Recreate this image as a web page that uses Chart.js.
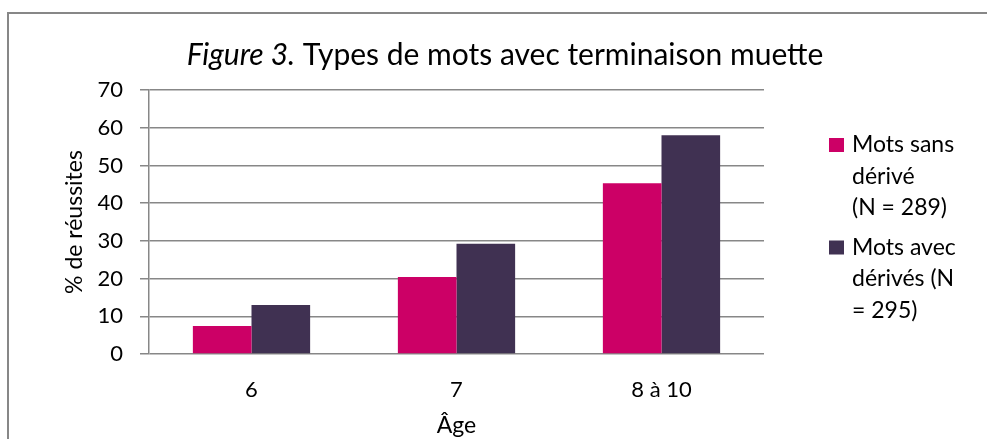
<!DOCTYPE html>
<html>
<head>
<meta charset="utf-8">
<title>Figure 3</title>
<script src="https://cdn.jsdelivr.net/npm/chart.js@4.4.1/dist/chart.umd.min.js"></script>
<style>
  html, body { margin: 0; padding: 0; background: #fff; overflow: hidden; }
  #wrap { position: relative; width: 987px; height: 439px; }
  #frame { position: absolute; left: 7px; top: 12px; width: 1000px; height: 460px; border: 2px solid #878787; }
  #chart { position: absolute; left: 0; top: 0; }
</style>
</head>
<body>
<div id="wrap">
  <div id="frame"></div>
  <canvas id="chart" width="987" height="439"></canvas>
</div>
<script>
// data
const ages = ["6", "7", "8 à 10"];
const sansDerive = [7.4, 20.4, 45.3];
const avecDerives = [13.0, 29.2, 58.0];
const seriesNames = [
  ["Mots sans", "dérivé", "(N = 289)"],
  ["Mots avec", "dérivés (N", "= 295)"]
];
const yTicks = [0, 10, 20, 30, 40, 50, 60, 70];
const titleItalic = "Figure 3.";
const titleRest = " Types de mots avec terminaison muette";

const FONT = "Lato";
const tickFont = { family: FONT, size: 22 };
const labelFont = { family: FONT, size: 23 };
const gridGrey = "#878787";

// Title with an italic part
const titlePlugin = {
  id: "mixedTitle",
  afterDraw(chart) {
    const ctx = chart.ctx;
    ctx.save();
    const italic = "italic 30px " + FONT;
    const normal = "30px " + FONT;
    ctx.font = italic;
    const w1 = ctx.measureText(titleItalic).width;
    ctx.font = normal;
    const w2 = ctx.measureText(titleRest).width;
    const x = 505 - (w1 + w2) / 2;
    ctx.fillStyle = "#000";
    ctx.textBaseline = "alphabetic";
    ctx.font = italic;
    ctx.fillText(titleItalic, x, 65);
    ctx.font = normal;
    ctx.fillText(titleRest, x + w1, 65);
    ctx.restore();
  }
};

// Legend on the right, wrapped text like the original
const sideLegend = {
  id: "sideLegend",
  afterDraw(chart) {
    const ctx = chart.ctx;
    const area = chart.chartArea;
    const boxX = area.right + 65;
    const lineH = 31.5;
    let y = 145; // centre of first line
    ctx.save();
    ctx.font = labelFont.size + "px " + FONT;
    ctx.textBaseline = "middle";
    chart.data.datasets.forEach((ds, i) => {
      ctx.fillStyle = ds.backgroundColor;
      ctx.fillRect(boxX, y - 7, 15, 14);
      ctx.fillStyle = "#000";
      seriesNames[i].forEach((line, j) => {
        ctx.fillText(line, boxX + 23, y + j * lineH);
      });
      y += seriesNames[i].length * lineH + 8;
    });
    ctx.restore();
  }
};

const ctx = document.getElementById("chart").getContext("2d");

new Chart(ctx, {
  type: "bar",
  data: {
    labels: ages,
    datasets: [
      {
        label: seriesNames[0].join(" "),
        data: sansDerive,
        backgroundColor: "#CC0066",
        borderWidth: 0,
        categoryPercentage: 0.572,
        barPercentage: 1
      },
      {
        label: seriesNames[1].join(" "),
        data: avecDerives,
        backgroundColor: "#403152",
        borderWidth: 0,
        categoryPercentage: 0.572,
        barPercentage: 1
      }
    ]
  },
  options: {
    responsive: false,
    animation: false,
    layout: { padding: { left: 61, right: 223, top: 90, bottom: 0 } },
    plugins: {
      legend: { display: false },
      title: { display: false },
      tooltip: { enabled: false }
    },
    scales: {
      x: {
        grid: { display: false, drawTicks: false },
        border: { display: false },
        ticks: { font: tickFont, color: "#000", padding: 23 },
        title: { display: true, text: "Âge", font: labelFont, color: "#000", padding: 0 },
        afterFit: s => { s.height = 85; }
      },
      y: {
        min: 0,
        max: 70,
        afterBuildTicks: s => { s.ticks = yTicks.map(v => ({ value: v })); },
        grid: { color: gridGrey, lineWidth: 1.5, tickLength: 9 },
        border: { color: gridGrey, width: 1.5 },
        ticks: { font: tickFont, color: "#000", padding: 17 },
        title: { display: true, text: "% de réussites", font: labelFont, color: "#000", padding: 0 },
        afterFit: s => { s.width = 88; }
      }
    }
  },
  plugins: [titlePlugin, sideLegend]
});
</script>
</body>
</html>
